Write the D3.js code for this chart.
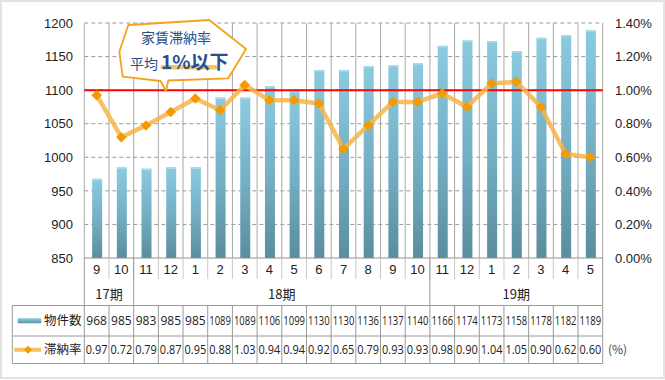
<!DOCTYPE html>
<html>
<head>
<meta charset="utf-8">
<script src="https://cdn.jsdelivr.net/npm/d3@7"></script>
<style>
  body { margin: 0; background: #fff; }
  svg { display: block; }
</style>
</head>
<body>
<div id="chart"></div>
<script>
// data
var months = [9, 10, 11, 12, 1, 2, 3, 4, 5, 6, 7, 8, 9, 10, 11, 12, 1, 2, 3, 4, 5];
var periodLabels = ["17期", "18期", "19期"];
var periodSizes = [2, 12, 7];
var counts = [968, 985, 983, 985, 985, 1089, 1089, 1106, 1099, 1130, 1130, 1136, 1137, 1140, 1166, 1174, 1173, 1158, 1178, 1182, 1189];
var rates = [0.97, 0.72, 0.79, 0.87, 0.95, 0.88, 1.03, 0.94, 0.94, 0.92, 0.65, 0.79, 0.93, 0.93, 0.98, 0.90, 1.04, 1.05, 0.90, 0.62, 0.60];
var leftTicks = [850, 900, 950, 1000, 1050, 1100, 1150, 1200];
var rightTicks = [0, 0.2, 0.4, 0.6, 0.8, 1.0, 1.2, 1.4];
var threshold = 1.0;

var W = 665, H = 380;
var plotL = 84.3, plotR = 602.7, plotT = 23, plotB = 258;
var monthRowB = 279, periodRowB = 305.5, row1B = 336, row2B = 363.5, tableL = 12.3;

var axisFont = "'Liberation Sans', Arial, sans-serif";
var jpFont = "'Noto Sans CJK JP', 'Noto Sans', sans-serif";

var svg = d3.select("#chart").append("svg")
    .attr("width", W)
    .attr("height", H);

// outer frame
svg.append("rect")
    .attr("x", 1).attr("y", 1)
    .attr("width", W - 2).attr("height", H - 3)
    .attr("fill", "#fff")
    .attr("stroke", "#e3e3e3")
    .attr("stroke-width", 2);

var x = d3.scaleBand()
    .domain(d3.range(months.length))
    .range([plotL, plotR]);

var yL = d3.scaleLinear().domain([850, 1200]).range([plotB, plotT]);
var yR = d3.scaleLinear().domain([0, 1.4]).range([plotB, plotT]);

var defs = svg.append("defs");
var grad = defs.append("linearGradient")
    .attr("id", "barGrad")
    .attr("x1", 0).attr("y1", 0).attr("x2", 0).attr("y2", 1);
grad.append("stop").attr("offset", "0%").attr("stop-color", "#8acbe0");
grad.append("stop").attr("offset", "55%").attr("stop-color", "#73adc2");
grad.append("stop").attr("offset", "100%").attr("stop-color", "#5a8d9e");

// horizontal dashed grid
svg.append("g")
    .selectAll("line")
    .data(leftTicks.slice(1))
    .enter().append("line")
    .attr("x1", plotL).attr("x2", plotR)
    .attr("y1", function (d) { return yL(d); })
    .attr("y2", function (d) { return yL(d); })
    .attr("stroke", "#9a9a9a")
    .attr("stroke-dasharray", "4,3");

// vertical column lines in plot
svg.append("g")
    .selectAll("line")
    .data(d3.range(months.length + 1))
    .enter().append("line")
    .attr("x1", function (i) { return plotL + i * x.bandwidth(); })
    .attr("x2", function (i) { return plotL + i * x.bandwidth(); })
    .attr("y1", plotT).attr("y2", plotB)
    .attr("stroke", "#a8a8a8");

// bars
var bw = 10;
svg.append("g")
    .selectAll("rect")
    .data(counts)
    .enter().append("rect")
    .attr("x", function (d, i) { return x(i) + (x.bandwidth() - bw) / 2 + 0.5; })
    .attr("y", function (d) { return yL(d); })
    .attr("width", bw)
    .attr("height", function (d) { return plotB - yL(d); })
    .attr("fill", "url(#barGrad)");

svg.append("g")
    .selectAll("rect")
    .data(counts)
    .enter().append("rect")
    .attr("x", function (d, i) { return x(i) + (x.bandwidth() - bw) / 2 + 0.5; })
    .attr("y", function (d) { return yL(d); })
    .attr("width", bw)
    .attr("height", 1.5)
    .attr("fill", "#a9dcec");

// bottom axis line
svg.append("line")
    .attr("x1", plotL).attr("x2", plotR)
    .attr("y1", plotB).attr("y2", plotB)
    .attr("stroke", "#8f8f8f");

// threshold line
svg.append("line")
    .attr("x1", plotL).attr("x2", plotR)
    .attr("y1", yR(threshold)).attr("y2", yR(threshold))
    .attr("stroke", "#ff0000")
    .attr("stroke-width", 2);

// rate line
var line = d3.line()
    .x(function (d, i) { return x(i) + x.bandwidth() / 2; })
    .y(function (d) { return yR(d); });

svg.append("path")
    .datum(rates)
    .attr("d", line)
    .attr("fill", "none")
    .attr("stroke", "#f6b546")
    .attr("stroke-opacity", 0.85)
    .attr("stroke-width", 4.5)
    .attr("stroke-linejoin", "round");

svg.append("g")
    .selectAll("path")
    .data(rates)
    .enter().append("path")
    .attr("d", d3.symbol().type(d3.symbolDiamond2).size(70))
    .attr("transform", function (d, i) {
        return "translate(" + (x(i) + x.bandwidth() / 2) + "," + yR(d) + ")";
    })
    .attr("fill", "#f39a00");

// left axis labels
svg.append("g")
    .selectAll("text")
    .data(leftTicks)
    .enter().append("text")
    .attr("x", 73)
    .attr("y", function (d) { return yL(d); })
    .attr("dy", "0.36em")
    .attr("text-anchor", "end")
    .attr("font-family", axisFont)
    .attr("font-size", 13)
    .attr("fill", "#222")
    .text(function (d) { return d; });

// right axis labels
svg.append("g")
    .selectAll("text")
    .data(rightTicks)
    .enter().append("text")
    .attr("x", 615)
    .attr("y", function (d) { return yR(d); })
    .attr("dy", "0.36em")
    .attr("font-family", axisFont)
    .attr("font-size", 13)
    .attr("fill", "#222")
    .text(function (d) { return d.toFixed(2) + "%"; });

// month row
var axisG = svg.append("g");
axisG.selectAll("line.m")
    .data(d3.range(1, months.length))
    .enter().append("line")
    .attr("x1", function (i) { return plotL + i * x.bandwidth(); })
    .attr("x2", function (i) { return plotL + i * x.bandwidth(); })
    .attr("y1", plotB).attr("y2", monthRowB)
    .attr("stroke", "#c8c8c8");

axisG.selectAll("text.m")
    .data(months)
    .enter().append("text")
    .attr("x", function (d, i) { return x(i) + x.bandwidth() / 2; })
    .attr("y", 274)
    .attr("text-anchor", "middle")
    .attr("font-family", axisFont)
    .attr("font-size", 13)
    .attr("fill", "#222")
    .text(function (d) { return d; });

// period row
var starts = [];
periodSizes.reduce(function (acc, n) { starts.push(acc); return acc + n; }, 0);

axisG.selectAll("line.p")
    .data(starts.concat([months.length]))
    .enter().append("line")
    .attr("x1", function (s) { return plotL + s * x.bandwidth(); })
    .attr("x2", function (s) { return plotL + s * x.bandwidth(); })
    .attr("y1", plotB)
    .attr("y2", periodRowB)
    .attr("stroke", "#9a9a9a");

axisG.selectAll("text.p")
    .data(periodLabels)
    .enter().append("text")
    .attr("x", function (d, i) { return plotL + (starts[i] + periodSizes[i] / 2) * x.bandwidth(); })
    .attr("y", 299)
    .attr("text-anchor", "middle")
    .attr("font-family", jpFont)
    .attr("font-size", 13)
    .attr("fill", "#222")
    .text(function (d) { return d; });

// data table
var tbl = svg.append("g");
[periodRowB, row1B, row2B].forEach(function (yy) {
    tbl.append("line")
        .attr("x1", tableL).attr("x2", plotR)
        .attr("y1", yy).attr("y2", yy)
        .attr("stroke", "#9a9a9a");
});
tbl.append("line")
    .attr("x1", tableL).attr("x2", tableL)
    .attr("y1", periodRowB).attr("y2", row2B)
    .attr("stroke", "#9a9a9a");
tbl.selectAll("line.c")
    .data(d3.range(months.length + 1))
    .enter().append("line")
    .attr("x1", function (i) { return plotL + i * x.bandwidth(); })
    .attr("x2", function (i) { return plotL + i * x.bandwidth(); })
    .attr("y1", periodRowB).attr("y2", row2B)
    .attr("stroke", "#9a9a9a");

// cell text, squeezed horizontally when wider than the cell
function cellText(sel, yy) {
    sel.attr("x", 0)
        .attr("y", 0)
        .attr("dy", "0.35em")
        .attr("text-anchor", "middle")
        .attr("font-family", "'Open Sans', 'Noto Sans', sans-serif")
        .attr("font-size", 12)
        .attr("fill", "#222")
        .each(function (d, i) {
            var maxW = x.bandwidth() - 3;
            var len = this.getComputedTextLength();
            var sx = len > maxW ? maxW / len : 1;
            d3.select(this).attr("transform",
                "translate(" + (x(i) + x.bandwidth() / 2) + "," + yy + ") scale(" + sx + ",1)");
        });
}

tbl.selectAll("text.c")
    .data(counts)
    .enter().append("text")
    .text(function (d) { return d; })
    .call(cellText, (periodRowB + row1B) / 2);

tbl.selectAll("text.r")
    .data(rates)
    .enter().append("text")
    .text(function (d) { return d.toFixed(2); })
    .call(cellText, (row1B + row2B) / 2);

tbl.append("text")
    .attr("x", 608)
    .attr("y", (row1B + row2B) / 2)
    .attr("dy", "0.35em")
    .attr("font-family", jpFont)
    .attr("font-size", 12)
    .attr("fill", "#444")
    .text("(%)");

// legend inside table
var r1 = (periodRowB + row1B) / 2, r2 = (row1B + row2B) / 2;
tbl.append("rect")
    .attr("x", 17.7).attr("y", r1 - 2.5)
    .attr("width", 23.5).attr("height", 5)
    .attr("fill", "url(#barGrad)");
tbl.append("line")
    .attr("x1", 14.3).attr("x2", 41)
    .attr("y1", r2).attr("y2", r2)
    .attr("stroke", "#f6b546")
    .attr("stroke-opacity", 0.85)
    .attr("stroke-width", 4);
tbl.append("path")
    .attr("d", d3.symbol().type(d3.symbolDiamond2).size(40))
    .attr("transform", "translate(28," + r2 + ")")
    .attr("fill", "#f39a00");
tbl.append("text")
    .attr("x", 44).attr("y", r1).attr("dy", "0.36em")
    .attr("font-family", jpFont).attr("font-size", 12.5).attr("fill", "#222")
    .text("物件数");
tbl.append("text")
    .attr("x", 44).attr("y", r2).attr("dy", "0.36em")
    .attr("font-family", jpFont).attr("font-size", 12.5).attr("fill", "#222")
    .text("滞納率");

// callout bubble
var bubble = svg.append("g");
var pts = [[128.3, 25], [209.3, 20], [246, 49], [228.3, 78.3], [168.3, 80.5], [166, 91], [160.5, 81], [122.7, 76.7], [119.3, 51.7]];
bubble.append("path")
    .attr("d", "M" + pts.map(function (p) { return p.join(","); }).join("L") + "Z")
    .attr("fill", "#fff")
    .attr("stroke", "#f0a41c")
    .attr("stroke-width", 1.8)
    .attr("stroke-linejoin", "round");
bubble.append("rect")
    .attr("x", 160.5).attr("y", 65)
    .attr("width", 58).attr("height", 4.5)
    .attr("rx", 2.2)
    .attr("fill", "#f7bb4a")
    .attr("opacity", 0.85);
bubble.append("text")
    .attr("x", 176).attr("y", 42.5)
    .attr("text-anchor", "middle")
    .attr("font-family", jpFont)
    .attr("font-size", 14)
    .attr("fill", "#2a4f8f")
    .text("家賃滞納率");
var t2 = bubble.append("text")
    .attr("x", 130).attr("y", 68.5)
    .attr("font-family", jpFont)
    .attr("fill", "#2a4f8f");
t2.append("tspan").attr("font-size", 14).text("平均");
t2.append("tspan").attr("dx", 3).attr("font-size", 19).attr("font-weight", "bold").text("1%以下");
</script>
</body>
</html>
